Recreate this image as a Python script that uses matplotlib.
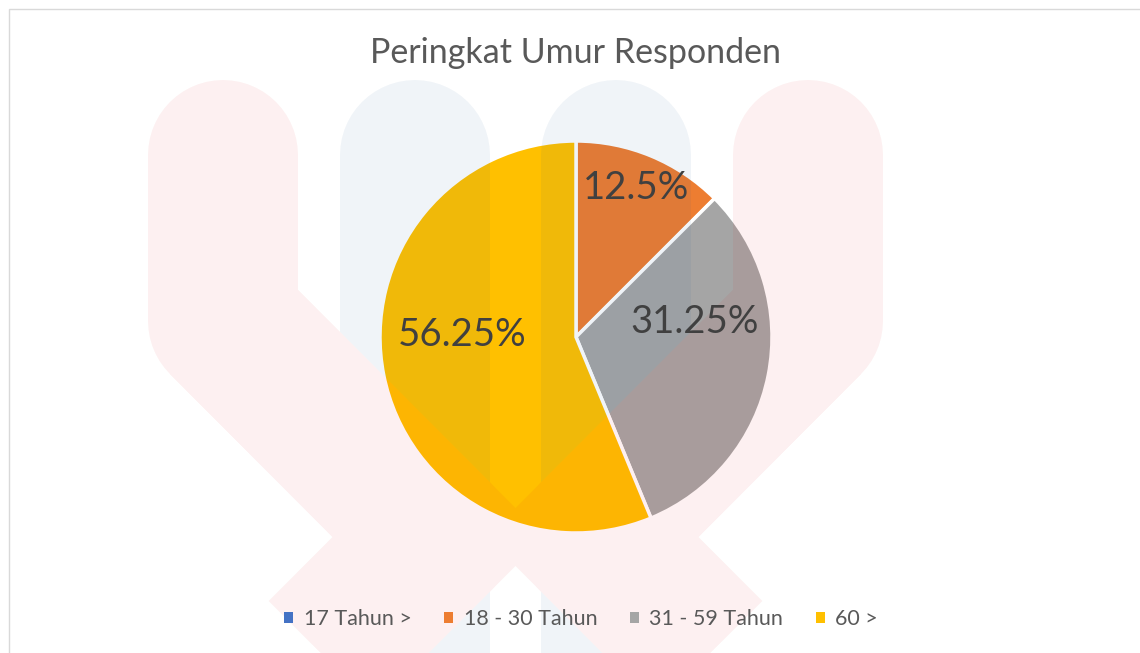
import numpy as np
import matplotlib
matplotlib.use("Agg")
import matplotlib.pyplot as plt
from matplotlib.patches import Rectangle

# ---------------- data ----------------
title = "Peringkat Umur Responden"
categories = ["17 Tahun >", "18 - 30 Tahun", "31 - 59 Tahun", "60 >"]
values = [0.0, 12.5, 31.25, 56.25]

# ---------------- style ----------------
colors = ["#4472C4", "#ED7D31", "#A5A5A5", "#FFC000"]
W, H = 1140, 653
FONT = ["Lato", "DejaVu Sans"]
TEXT_DARK = "#404040"
TEXT_GRAY = "#595959"
CENTER = (576, H - 337)
RADIUS = 196
# per-label (radial fraction, angle in degrees) for data labels (Excel best-fit look)
label_place = [None, (0.82, 68.0), (0.61, 7.0), (0.58, 179.0)]

plt.rcParams['font.family'] = FONT

# ---------- watermark (drawn opaque off-screen, then overlaid faintly) ----------
def build_watermark():
    f2 = plt.figure(figsize=(W / 100, H / 100), dpi=100)
    f2.patch.set_alpha(0)
    a2 = f2.add_axes([0, 0, 1, 1])
    a2.set_xlim(0, W)
    a2.set_ylim(H, 0)          # screen-like coordinates for the decoration
    a2.axis('off')
    a2.patch.set_alpha(0)
    red = "#E31E24"
    blue = "#1F5A96"
    lw = 150 * 0.72
    axis = 1031
    # blue pillars
    for xc in (415, axis - 415):
        a2.plot([xc, xc], [155, 760], color=blue, lw=lw, solid_capstyle='round')
    # red shapes (pillar -> diagonal in -> diagonal out), mirrored
    for sgn in (1, -1):
        def X(x):
            return x if sgn == 1 else axis - x
        a2.plot([X(223), X(223), X(438.5)], [155, 321, 537], color=red, lw=lw,
                solid_capstyle='round', solid_joinstyle='round')
        a2.plot([X(223), X(438.5), X(100)], [321, 537, 876], color=red, lw=lw,
                solid_capstyle='butt', solid_joinstyle='miter')
    f2.canvas.draw()
    img = np.asarray(f2.canvas.buffer_rgba()).copy()
    plt.close(f2)
    return img

wm = build_watermark()

# ---------------- main figure ----------------
fig = plt.figure(figsize=(W / 100, H / 100), dpi=100)
fig.patch.set_facecolor("white")
ax = fig.add_axes([0, 0, 1, 1])

def fmt(p):
    return "" if p < 0.05 else f"{p:g}%"

wedges, texts, autotexts = ax.pie(
    values, colors=colors, startangle=90, counterclock=False,
    center=CENTER, radius=RADIUS, frame=True,
    autopct=fmt, pctdistance=0.6,
    wedgeprops=dict(edgecolor="white", linewidth=2.5),
    textprops=dict(color=TEXT_DARK, fontsize=27.5),
)
for t, place in zip(autotexts, label_place):
    if place is None:
        continue
    r, ang = place
    t.set_position((CENTER[0] + r * RADIUS * np.cos(np.radians(ang)),
                    CENTER[1] + r * RADIUS * np.sin(np.radians(ang))))
    t.set_zorder(10)

ax.set_xlim(0, W)
ax.set_ylim(0, H)
ax.set_aspect('equal')
ax.axis('off')

# watermark overlay (image rows go top -> bottom)
ax.imshow(wm, extent=(0, W, 0, H), alpha=0.065, zorder=5, interpolation='bilinear')
ax.set_xlim(0, W)
ax.set_ylim(0, H)

# outer chart border
ax.add_patch(Rectangle((8.5, -10), W + 20, H - 8.5 + 10, fill=False, ec="#D9D9D9", lw=1.0, zorder=6))

# title
ax.text(576, H - 53, title, ha='center', va='center', fontsize=24.5, color=TEXT_GRAY, zorder=10)

# legend
leg = ax.legend(wedges, categories, loc='center', bbox_to_anchor=(581 / W, 1 - 619 / H),
                ncol=4, frameon=False, fontsize=15.5, handlelength=0.42, handleheight=0.42,
                handletextpad=0.5, columnspacing=1.5, labelcolor=TEXT_GRAY)
leg.set_zorder(10)
for h in leg.legend_handles:
    h.set_edgecolor("none")

fig.savefig("out.png", dpi=100, facecolor="white")
